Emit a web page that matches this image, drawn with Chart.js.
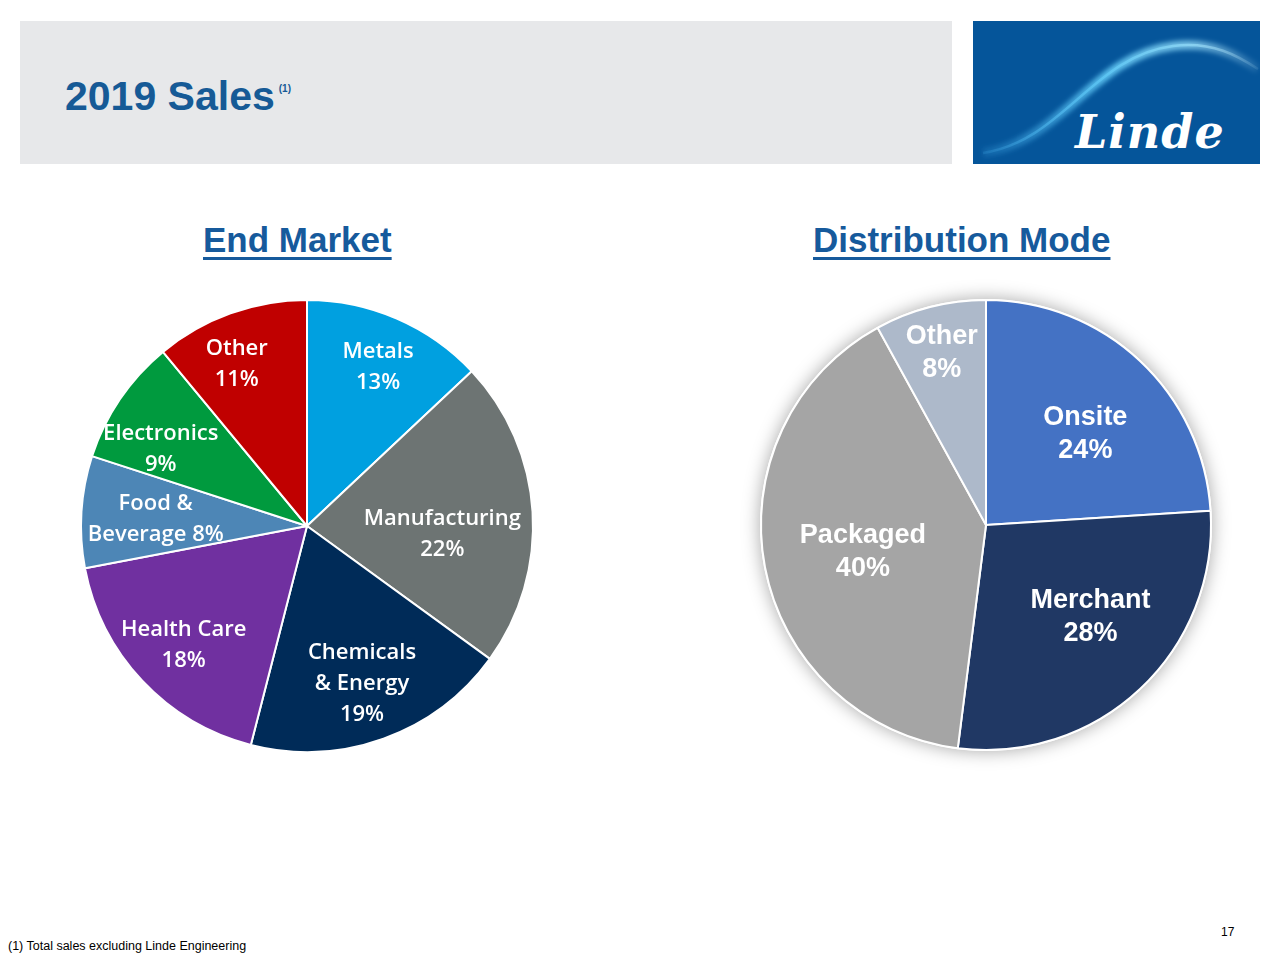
<!DOCTYPE html>
<html>
<head>
<meta charset="utf-8">
<script src="https://cdn.jsdelivr.net/npm/chart.js@4"></script>
<style>
  html, body { margin: 0; padding: 0; background: #fff; }
  body { width: 1280px; height: 960px; position: relative; overflow: hidden; font-family: "Liberation Sans", Arial, sans-serif; }
  .header { position: absolute; left: 20px; top: 21px; width: 932px; height: 143px; background: #e7e8ea; }
  .title { position: absolute; left: 45px; top: 52px; font-size: 41px; font-weight: bold; color: #165a96; }
  .title sup { font-size: 10px; position: relative; top: 10px; left: 4px; vertical-align: top; }
  .logo { position: absolute; left: 973px; top: 21px; width: 287px; height: 143px; background: #05559a; overflow: hidden; }
  .logo svg { position: absolute; left: 0; top: 0; }
  .logo .word { position: absolute; left: 102px; top: 84px; font-family: "DejaVu Serif", serif; font-style: italic; font-weight: bold; font-size: 46px; color: #fff; letter-spacing: 1px; }
  .heading { position: absolute; top: 220px; font-size: 35px; font-weight: bold; color: #165a9c; text-decoration: underline; text-decoration-thickness: 3px; text-underline-offset: 5px; white-space: nowrap; }
  canvas { position: absolute; }
  .foot { position: absolute; left: 8px; top: 939px; font-size: 12.5px; color: #000; }
  .page { position: absolute; left: 1221px; top: 925px; font-size: 12px; color: #000; }
</style>
</head>
<body>
<div class="header"><div class="title">2019 Sales<sup>(1)</sup></div></div>
<div class="logo">
  <svg width="287" height="143">
    <defs>
      <linearGradient id="sw" x1="0" y1="0" x2="1" y2="0">
        <stop offset="0" stop-color="#3fa9e8" stop-opacity="0.2"/>
        <stop offset="0.45" stop-color="#5cc4f2" stop-opacity="0.95"/>
        <stop offset="0.75" stop-color="#8fd8f6" stop-opacity="0.8"/>
        <stop offset="1" stop-color="#bfe9fb" stop-opacity="0.1"/>
      </linearGradient>
      <filter id="bl"><feGaussianBlur stdDeviation="2.5"/></filter>
    </defs>
    <path d="M 10 132 C 90 120, 120 35, 200 25 C 240 20, 265 35, 285 48" fill="none" stroke="url(#sw)" stroke-width="9" filter="url(#bl)"/>
    <path d="M 10 132 C 90 120, 120 35, 200 25 C 240 20, 265 35, 285 48" fill="none" stroke="url(#sw)" stroke-width="2.5"/>
  </svg>
  <div class="word">Linde</div>
</div>

<div class="heading" style="left:203px">End Market</div>
<div class="heading" style="left:813px">Distribution Mode</div>

<canvas id="endMarket" width="460" height="460" style="left:77px;top:296px"></canvas>
<canvas id="distMode" width="500" height="500" style="left:736px;top:275px"></canvas>

<div class="foot">(1) Total sales excluding Linde Engineering</div>
<div class="page">17</div>

<script>
// End market split, clockwise from 12 o'clock
const endMarketLabels = ["Metals", "Manufacturing", "Chemicals & Energy", "Health Care", "Food & Beverage", "Electronics", "Other"];
const endMarketLines = [["Metals"], ["Manufacturing"], ["Chemicals", "& Energy"], ["Health Care"], ["Food &", "Beverage"], ["Electronics"], ["Other"]];
const endMarketValues = [13, 22, 19, 18, 8, 9, 11];
const endMarketColors = ["#00a0e0", "#6d7473", "#002b58", "#7030a0", "#4d86b6", "#009a3e", "#c00000"];

// Distribution mode split
const distLabels = ["Onsite", "Merchant", "Packaged", "Other"];
const distValues = [24, 28, 40, 8];
const distColors = ["#4472c4", "#203864", "#a5a5a5", "#adb9ca"];

// label placement: fraction of radius, angle nudge in degrees
const endMarketPlace = { frac: [0.77, 0.60, 0.74, 0.76, 0.67, 0.73, 0.78], nudge: [0.7, 7, 0.6, -0.9, -0.9, -6.6, -3.7] };
const distPlace = { frac: [0.60, 0.62, 0.56, 0.79], nudge: [4.2, -5.3, -1.5, 0] };

// draws the multi-line labels inside the slices
function sliceLabels(id, lineSets, values, place, font, lineH, pctInline) {
  return {
    id: id,
    afterDatasetsDraw(chart) {
      const ctx = chart.ctx;
      const arcs = chart.getDatasetMeta(0).data;
      ctx.save();
      ctx.fillStyle = "#fff";
      ctx.font = font;
      ctx.textAlign = "center";
      ctx.textBaseline = "middle";
      arcs.forEach((arc, i) => {
        const p = arc.getProps(["x", "y", "startAngle", "endAngle", "outerRadius"], true);
        const mid = (p.startAngle + p.endAngle) / 2 + place.nudge[i] * Math.PI / 180;
        const cx = p.x + Math.cos(mid) * p.outerRadius * place.frac[i];
        const cy = p.y + Math.sin(mid) * p.outerRadius * place.frac[i];
        let lines = lineSets[i].slice();
        const pct = values[i] + "%";
        if (pctInline && pctInline[i]) lines[lines.length - 1] += " " + pct;
        else lines.push(pct);
        lines.forEach((t, k) => {
          ctx.fillText(t, cx, cy + (k - (lines.length - 1) / 2) * lineH);
        });
      });
      ctx.restore();
    }
  };
}

// soft shadow behind the second pie
const pieShadow = {
  id: "pieShadow",
  beforeDatasetsDraw(chart) {
    const arc = chart.getDatasetMeta(0).data[0];
    if (!arc) return;
    const ctx = chart.ctx;
    ctx.save();
    ctx.shadowColor = "rgba(0,0,0,0.35)";
    ctx.shadowBlur = 18;
    ctx.fillStyle = "#fff";
    ctx.beginPath();
    ctx.arc(arc.x, arc.y, arc.outerRadius + 1, 0, Math.PI * 2);
    ctx.fill();
    ctx.restore();
  }
};

function makePie(canvasId, labels, values, colors, radius, pad, plugins) {
  return new Chart(document.getElementById(canvasId), {
    type: "pie",
    data: {
      labels: labels,
      datasets: [{
        data: values,
        backgroundColor: colors,
        borderColor: "#fff",
        borderWidth: 2,
        hoverBorderWidth: 2,
        hoverOffset: 0
      }]
    },
    options: {
      responsive: false,
      animation: false,
      radius: radius,
      layout: { padding: pad },
      plugins: { legend: { display: false }, tooltip: { enabled: false } }
    },
    plugins: plugins
  });
}

makePie("endMarket", endMarketLabels, endMarketValues, endMarketColors, 226, 3, [
  sliceLabels("emLabels", endMarketLines, endMarketValues, endMarketPlace, '600 22px "Open Sans"', 31,
    [false, false, false, false, true, false, false])
]);

makePie("distMode", distLabels, distValues, distColors, 225, 24, [
  pieShadow,
  sliceLabels("dmLabels", distLabels.map(l => [l]), distValues, distPlace, 'bold 27px "Liberation Sans"', 33, null)
]);
</script>
</body>
</html>
